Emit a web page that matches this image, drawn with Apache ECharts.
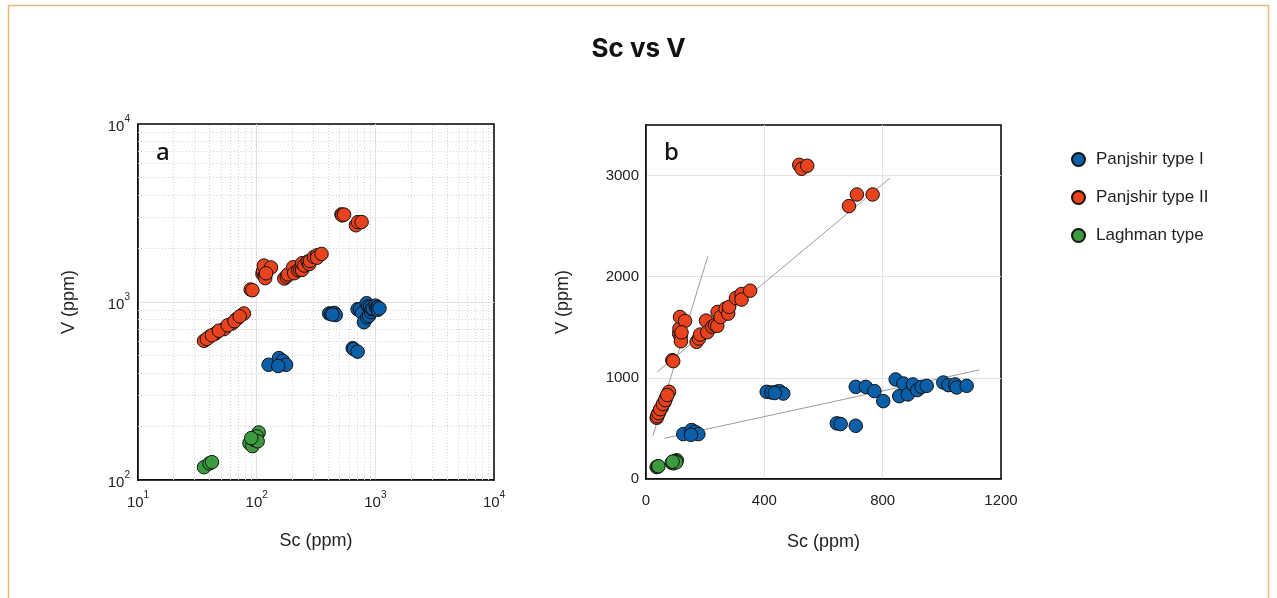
<!DOCTYPE html>
<html>
<head>
<meta charset="utf-8">
<script src="https://cdn.jsdelivr.net/npm/echarts@6/dist/echarts.min.js"></script>
<style>
  html, body { margin: 0; padding: 0; background: #fff; }
  #chart { width: 1277px; height: 598px; }
</style>
</head>
<body>
<div id="chart"></div>
<script>
// Sc (ppm) / V (ppm)
var type1Sc = [126, 154, 166, 177, 152, 408, 424, 442, 451, 464, 435, 645, 658, 709,
  709, 743, 772, 802, 844, 856, 870, 885, 902, 917, 932, 949, 1005, 1022, 1045, 1050, 1084];
var type1V = [444, 484, 467, 444, 437, 862, 856, 862, 868, 845, 850, 550, 543, 526,
  911, 911, 869, 770, 984, 819, 944, 836, 935, 879, 911, 921, 954, 928, 935, 905, 921];

var type2Sc = [36, 40, 45, 53, 62, 68, 78, 38, 42, 48, 57, 65, 72, 89, 92,
  112, 113, 115, 117, 118, 132, 120, 171, 179, 183, 203, 207, 224, 233, 241, 242, 252, 269, 278, 281,
  304, 323, 323, 352, 518, 526, 545, 686, 713, 766];
var type2V = [605, 638, 665, 704, 757, 803, 862, 620, 650, 690, 740, 780, 830, 1175, 1165,
  1438, 1488, 1602, 1405, 1362, 1563, 1450, 1356, 1389, 1428, 1566, 1451, 1504, 1520, 1514, 1652, 1602, 1685, 1635, 1701,
  1790, 1829, 1774, 1862, 3106, 3067, 3097, 2698, 2813, 2813];

var laghSc = [36, 40, 42, 87, 92, 98, 104, 95, 100, 102, 90];
var laghV = [118, 124, 126, 161, 155, 171, 185, 168, 176, 165, 172];

// trend lines in panel b
var trendA = [[23, 427], [209, 2201]];
var trendB = [[38, 1059], [824, 2974]];
var trendC = [[62, 402], [1128, 1079]];

var linTicksX = [0, 400, 800, 1200];
var linTicksY = [0, 1000, 2000, 3000];

var names = ['Panjshir type I', 'Panjshir type II', 'Laghman type'];
var colors = ['#0b5ea8', '#e8431d', '#3d9a3f'];

function pairs(xs, ys) {
  return xs.map(function (x, i) { return [x, ys[i]]; });
}
var groups = [pairs(type1Sc, type1V), pairs(type2Sc, type2V), pairs(laghSc, laghV)];

// dotted minor log grid
var minorX = [], minorY = [];
[10, 100, 1000].forEach(function (d) {
  for (var k = 2; k <= 9; k++) {
    minorX.push({ xAxis: d * k });
    if (d >= 100) minorY.push({ yAxis: d * k });
  }
});

function supLabel(v) {
  return '{b|10}{s|' + Math.round(Math.log10(v)) + '}';
}

var font = '"Liberation Sans", Arial, sans-serif';
var tickRich = {
  b: { fontSize: 15, color: '#222', fontFamily: font, lineHeight: 20, verticalAlign: 'bottom' },
  s: { fontSize: 10, color: '#222', fontFamily: font, lineHeight: 20, verticalAlign: 'top' }
};
var gridLine = { show: true, showMaxLine: false, lineStyle: { color: '#e2e2e2', width: 1 } };

var chart = echarts.init(document.getElementById('chart'));

var series = [];
groups.forEach(function (g, i) {
  [0, 1].forEach(function (p) {
    series.push({
      name: names[i],
      type: 'scatter',
      xAxisIndex: p,
      yAxisIndex: p,
      data: g,
      symbolSize: 13.5,
      itemStyle: { color: colors[i], borderColor: '#111', borderWidth: 1, opacity: 1 },
      z: 5
    });
  });
});
[trendA, trendB, trendC].forEach(function (t) {
  series.push({
    type: 'line',
    xAxisIndex: 1,
    yAxisIndex: 1,
    data: t,
    symbol: 'none',
    silent: true,
    lineStyle: { color: '#9a9a9a', width: 1 },
    z: 3
  });
});
series.push({
  type: 'line',
  xAxisIndex: 0,
  yAxisIndex: 0,
  data: [],
  silent: true,
  markLine: {
    silent: true,
    symbol: 'none',
    label: { show: false },
    lineStyle: { color: '#d2d2d2', type: [1, 2], width: 1 },
    data: minorX.concat(minorY)
  }
});

chart.setOption({
  animation: false,
  title: [
    { text: 'Sc vs V', left: 'center', top: 31,
      textStyle: { fontSize: 26, fontWeight: 'bold', color: '#111', fontFamily: 'Inter, "Noto Sans", sans-serif' } },
    { text: 'a', left: 151, top: 136,
      textStyle: { fontSize: 24, fontWeight: 500, color: '#111', fontFamily: '"Noto Sans", sans-serif' } },
    { text: 'b', left: 659, top: 136,
      textStyle: { fontSize: 24, fontWeight: 500, color: '#111', fontFamily: '"Noto Sans", sans-serif' } }
  ],
  legend: {
    orient: 'vertical',
    left: 1066,
    top: 146,
    itemWidth: 13,
    itemHeight: 13,
    itemGap: 21,
    icon: 'circle',
    data: names,
    textStyle: { fontSize: 17, color: '#222', fontFamily: font, padding: [0, 0, 0, 6] }
  },
  graphic: [{
    type: 'rect',
    shape: { x: 8.5, y: 5.5, width: 1260, height: 620 },
    style: { fill: 'none', stroke: '#e6bd78', lineWidth: 1.5 },
    silent: true
  }],
  grid: [
    { left: 138, top: 124, width: 356, height: 356, show: true, borderColor: '#000', borderWidth: 1.5 },
    { left: 646, top: 125, width: 355, height: 354, show: true, borderColor: '#000', borderWidth: 1.5 }
  ],
  xAxis: [
    {
      type: 'log', gridIndex: 0, min: 10, max: 10000, logBase: 10,
      name: 'Sc (ppm)', nameLocation: 'middle', nameGap: 52,
      nameTextStyle: { fontSize: 18, color: '#222', fontFamily: font },
      axisLine: { lineStyle: { color: '#000', width: 1.5 } },
      axisTick: { show: false },
      axisLabel: { margin: 10, formatter: supLabel, rich: tickRich },
      splitLine: gridLine
    },
    {
      type: 'value', gridIndex: 1, min: 0, max: 1200, interval: 400,
      name: 'Sc (ppm)', nameLocation: 'middle', nameGap: 54,
      nameTextStyle: { fontSize: 18, color: '#222', fontFamily: font },
      axisLine: { lineStyle: { color: '#000', width: 1.5 } },
      axisTick: { show: false },
      axisLabel: { margin: 14, fontSize: 15, color: '#222', fontFamily: font,
        formatter: function (v) { return linTicksX.indexOf(v) >= 0 ? String(v) : ''; } },
      splitLine: gridLine
    }
  ],
  yAxis: [
    {
      type: 'log', gridIndex: 0, min: 100, max: 10000, logBase: 10,
      name: 'V (ppm)', nameLocation: 'middle', nameGap: 60,
      nameTextStyle: { fontSize: 18, color: '#222', fontFamily: font },
      axisLine: { lineStyle: { color: '#000', width: 1.5 } },
      axisTick: { show: false },
      axisLabel: { margin: 8, formatter: supLabel, rich: tickRich },
      splitLine: gridLine
    },
    {
      type: 'value', gridIndex: 1, min: 0, max: 3500, interval: 1000,
      name: 'V (ppm)', nameLocation: 'middle', nameGap: 74,
      nameTextStyle: { fontSize: 18, color: '#222', fontFamily: font },
      axisLine: { lineStyle: { color: '#000', width: 1.5 } },
      axisTick: { show: false },
      axisLabel: { margin: 7, fontSize: 15, color: '#222', fontFamily: font,
        formatter: function (v) { return linTicksY.indexOf(v) >= 0 ? String(v) : ''; } },
      splitLine: gridLine
    }
  ],
  series: series
});
</script>
</body>
</html>
